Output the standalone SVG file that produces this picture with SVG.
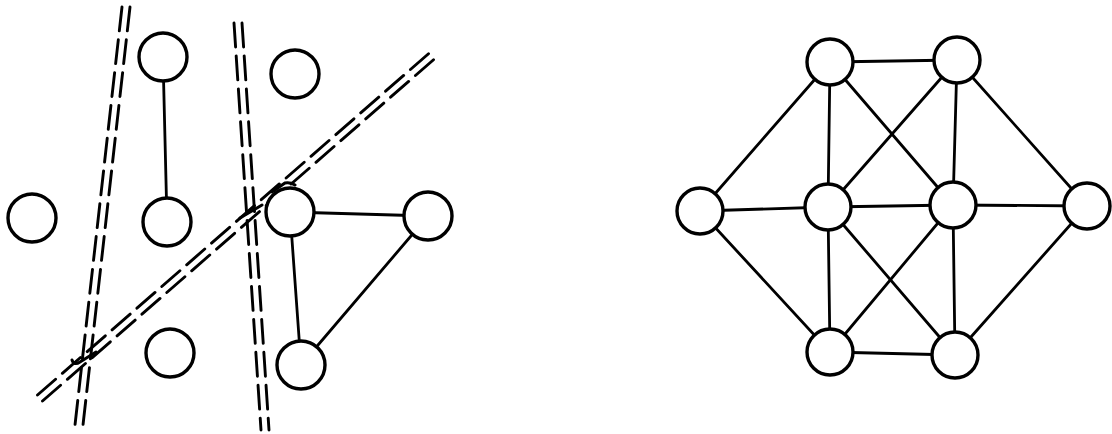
<svg xmlns="http://www.w3.org/2000/svg" width="1112" height="434" viewBox="0 0 1112 434">
<style>
.e{stroke:#000;stroke-width:2.8;fill:none;stroke-linecap:round}
.n{fill:#fff;stroke:#000;stroke-width:3.4}
.d{stroke:#000;stroke-width:2.9;fill:none;stroke-dasharray:24 9;stroke-linecap:round}
.h{stroke:#000;stroke-width:3;fill:none;stroke-linecap:round}
</style>
<rect width="1112" height="434" fill="#fff"/>
<g id="cuts">
<line class="d" x1="122" y1="7" x2="75" y2="425"/>
<line class="d" x1="130" y1="7" x2="83" y2="425"/>
<line class="d" x1="234" y1="23" x2="261" y2="430"/>
<line class="d" x1="242" y1="23" x2="269" y2="430"/>
<line class="d" x1="37.5" y1="395" x2="430.5" y2="52"/>
<line class="d" x1="42.5" y1="401" x2="435.5" y2="58"/>
<path class="h" d="M240 218 L262 205 M272 192 L285 183 Q290 182 295 185"/>
<path class="h" d="M72 360 Q74 366 80 362 L96 352"/>
</g>
<g id="connectors">
<line class="e" x1="163" y1="57" x2="167" y2="222"/>
<line class="e" x1="290" y1="212" x2="428" y2="216"/>
<line class="e" x1="290" y1="212" x2="301" y2="365"/>
<line class="e" x1="428" y1="216" x2="301" y2="365"/>
<line class="e" x1="830" y1="62" x2="957" y2="60"/>
<line class="e" x1="830" y1="62" x2="700" y2="211"/>
<line class="e" x1="830" y1="62" x2="828" y2="207"/>
<line class="e" x1="830" y1="62" x2="953" y2="205"/>
<line class="e" x1="957" y1="60" x2="828" y2="207"/>
<line class="e" x1="957" y1="60" x2="953" y2="205"/>
<line class="e" x1="957" y1="60" x2="1087" y2="206"/>
<line class="e" x1="700" y1="211" x2="828" y2="207"/>
<line class="e" x1="828" y1="207" x2="953" y2="205"/>
<line class="e" x1="953" y1="205" x2="1087" y2="206"/>
<line class="e" x1="700" y1="211" x2="830" y2="352"/>
<line class="e" x1="828" y1="207" x2="830" y2="352"/>
<line class="e" x1="828" y1="207" x2="955" y2="355"/>
<line class="e" x1="953" y1="205" x2="830" y2="352"/>
<line class="e" x1="953" y1="205" x2="955" y2="355"/>
<line class="e" x1="1087" y1="206" x2="955" y2="355"/>
<line class="e" x1="830" y1="352" x2="955" y2="355"/>
</g>
<g id="a1"><circle class="n" cx="163" cy="57" r="24"/></g>
<g id="a2"><circle class="n" cx="167" cy="222" r="24"/></g>
<g id="a3"><circle class="n" cx="295" cy="74" r="24"/></g>
<g id="a4"><circle class="n" cx="32" cy="218" r="24"/></g>
<g id="a5"><circle class="n" cx="170" cy="353" r="24"/></g>
<g id="a6"><circle class="n" cx="290" cy="212" r="24"/></g>
<g id="a7"><circle class="n" cx="428" cy="216" r="24"/></g>
<g id="a8"><circle class="n" cx="301" cy="365" r="24"/></g>
<g id="b1"><circle class="n" cx="830" cy="62" r="23"/></g>
<g id="b2"><circle class="n" cx="957" cy="60" r="23"/></g>
<g id="b3"><circle class="n" cx="700" cy="211" r="23"/></g>
<g id="b4"><circle class="n" cx="828" cy="207" r="23"/></g>
<g id="b5"><circle class="n" cx="953" cy="205" r="23"/></g>
<g id="b6"><circle class="n" cx="1087" cy="206" r="23"/></g>
<g id="b7"><circle class="n" cx="830" cy="352" r="23"/></g>
<g id="b8"><circle class="n" cx="955" cy="355" r="23"/></g>
</svg>
